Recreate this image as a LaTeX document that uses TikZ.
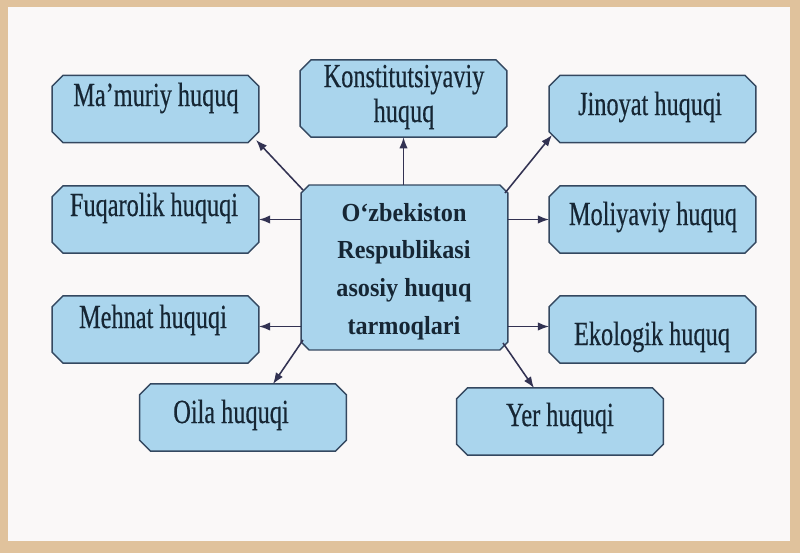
\documentclass[tikz,border=0pt]{standalone}
\usepackage{fontspec}
\usetikzlibrary{arrows.meta,calc}
\newfontfamily\regfont[FakeStretch=0.72,FakeBold=0.4]{Liberation Serif}
\newfontfamily\boldfont[FakeStretch=0.93]{Liberation Serif}
\definecolor{framecol}{RGB}{224,194,156}
\definecolor{paper}{RGB}{250,248,248}
\definecolor{boxfill}{RGB}{170,213,237}
\definecolor{boxline}{RGB}{52,72,96}
\definecolor{txtcol}{RGB}{22,38,52}
\definecolor{arrcol}{RGB}{50,50,82}
\begin{document}
\begin{tikzpicture}[x=0.025cm,y=-0.025cm,
  box/.style={rectangle, inner sep=0pt, minimum width=146.7pt, minimum height=47.5pt},
  boxline/.style={draw=boxline, line width=1pt, fill=boxfill, line join=miter},
  lbl/.style={font=\regfont\fontsize{24}{24.8}\selectfont, text=txtcol,
    inner sep=0pt, align=center},
  blbl/.style={font=\boldfont\bfseries\fontsize{18.5}{26.9}\selectfont,
    text=txtcol, inner sep=0pt, align=center},
  conn/.style={draw=arrcol, line width=1.1pt, -{Latex[length=8pt,width=6pt]}}]
\fill[framecol] (0,0) rectangle (800,553);
\fill[paper] (8,7) rectangle (790,541);
\useasboundingbox (0,0) rectangle (800,553);
% boxes (placement)
\node[box] (mam) at (155.5,109) {};
\node[box] (fuq) at (155.5,219.5) {};
\node[box] (meh) at (155.5,329.5) {};
\node[box] (oil) at (243,417.5) {};
\node[box, minimum height=54.6pt] (kon) at (403.5,98.5) {};
\node[box] (jin) at (652.5,109) {};
\node[box] (mol) at (652.5,219.5) {};
\node[box] (eko) at (652.5,329.5) {};
\node[box] (yer) at (560,421.5) {};
\node[box, minimum height=116.9pt] (c) at (404.5,267.5) {};
% chamfered outlines
\foreach \n/\k in {mam/11,fuq/11,meh/11,oil/11,kon/11,jin/11,mol/11,eko/11,yer/11,c/8}{
  \path[boxline] ($(\n.north west)+(\k,0)$) -- ($(\n.north east)+(-\k,0)$)
    -- ($(\n.north east)+(0,\k)$) -- ($(\n.south east)+(0,-\k)$)
    -- ($(\n.south east)+(-\k,0)$) -- ($(\n.south west)+(\k,0)$)
    -- ($(\n.south west)+(0,-\k)$) -- ($(\n.north west)+(0,\k)$) -- cycle;
}
% texts
\node[lbl, anchor=base] (mamt) at (156,106) {Ma’muriy huquq};
\node[lbl, anchor=base] (fuqt) at (154,216) {Fuqarolik huquqi};
\node[lbl, anchor=base] (meht) at (153,328) {Mehnat huquqi};
\node[lbl, anchor=base] (oilt) at (231,423) {Oila huquqi};
\node[lbl] (kont) at (404,97) {Konstitutsiyaviy\\huquq};
\node[lbl, anchor=base] (jint) at (650,115) {Jinoyat huquqi};
\node[lbl, anchor=base] (molt) at (653,225) {Moliyaviy huquq};
\node[lbl, anchor=base] (ekot) at (652,345) {Ekologik huquq};
\node[lbl, anchor=base] (yert) at (560,426) {Yer huquqi};
\node[blbl] (ct) at (404,271.5) {O‘zbekiston\\Respublikasi\\asosiy huquq\\tarmoqlari};
% connectors
\draw[conn] ($(c.center)+(-101.5,-77.5)$) -- ($(mam.center)+(100.5,31)$);
\draw[conn] (c.west |- fuq.east) -- (fuq.east);
\draw[conn] (kon.south |- c.north) -- (kon.south);
\draw[conn] ($(c.center)+(100.5,-74.5)$) -- ($(jin.center)+(-100.5,26)$);
\draw[conn] (c.east |- mol.west) -- (mol.west);
\draw[conn] ($(c.west |- meh.east)+(0,-3)$) -- ($(meh.east)+(0,-3)$);
\draw[conn] ($(c.east |- eko.west)+(0,-3)$) -- ($(eko.west)+(0,-3)$);
\draw[conn] ($(c.center)+(-101.5,72.5)$) -- ($(oil.center)+(30,-33.5)$);
\draw[conn] ($(c.center)+(98.5,75.5)$) -- ($(yer.center)+(-26,-33.5)$);
\end{tikzpicture}
\end{document}
